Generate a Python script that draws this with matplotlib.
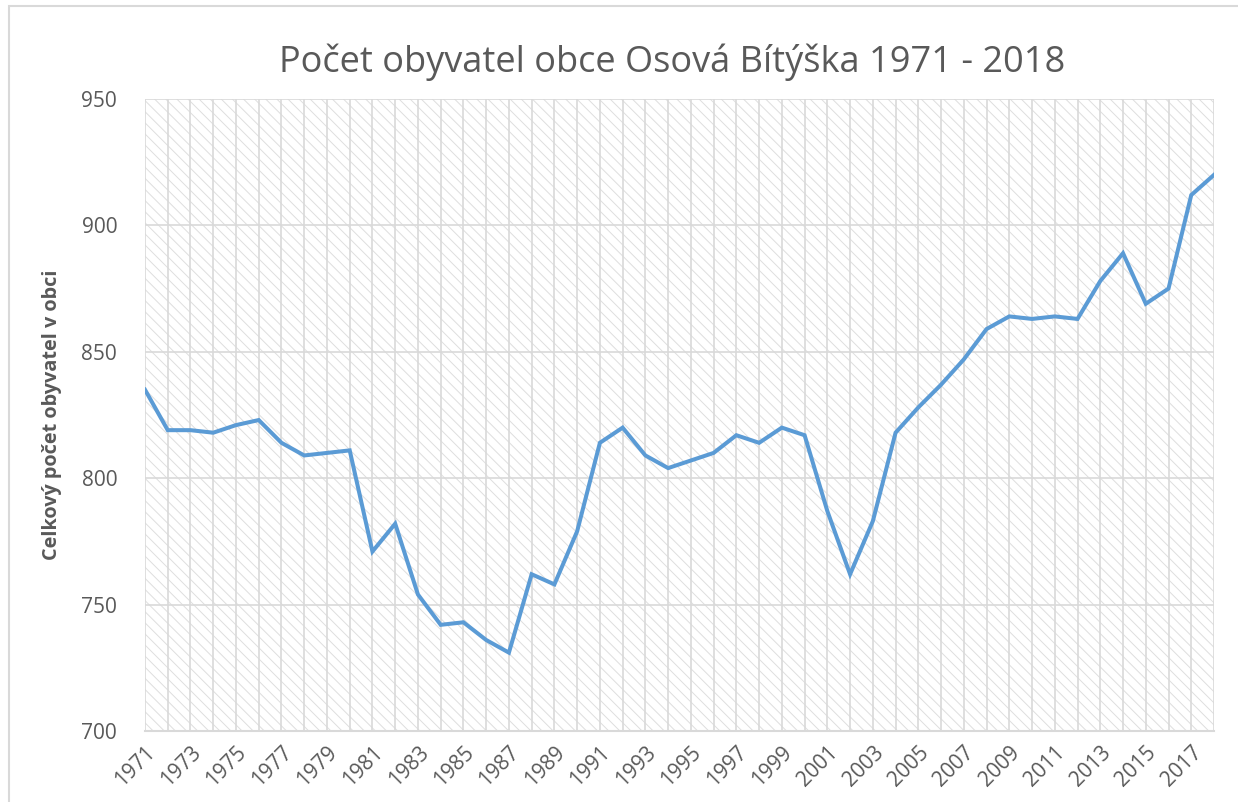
import matplotlib
matplotlib.use("Agg")
import matplotlib.pyplot as plt
from matplotlib.patches import Rectangle
from matplotlib.ticker import MultipleLocator

# data
years = list(range(1971, 2019))
population = [835, 819, 819, 818, 821, 823, 814, 809, 810, 811,
              771, 782, 754, 742, 743, 736, 731, 762, 758, 779,
              814, 820, 809, 804, 807, 810, 817, 814, 820, 817,
              787, 762, 783, 818, 828, 837, 847, 859, 864, 863,
              864, 863, 878, 889, 869, 875, 912, 920]
tick_years = years[::2]

TEXT = "#595959"
GRID = "#d9d9d9"
LINE = "#5B9BD5"

plt.rcParams['font.family'] = ['Open Sans', 'DejaVu Sans']
plt.rcParams['hatch.linewidth'] = 0.7

fig = plt.figure(figsize=(12.38, 8.02), dpi=100)
ax = fig.add_axes([145/1238, 1 - 731/802, (1214-145)/1238, (731-99)/802])

# outer chart border
fig.patches.append(Rectangle((9/1238, -0.05), 1.2, 1 - 6/802 + 0.05,
                             transform=fig.transFigure, fill=False,
                             edgecolor=GRID, lw=1.5, zorder=0))

# hatched plot area
ax.add_patch(Rectangle((0, 0), 1, 1, transform=ax.transAxes, facecolor="white",
                       edgecolor="#dedede", lw=0, hatch="\\\\\\", zorder=0))

ax.plot(years, population, color=LINE, lw=2.9, zorder=3, solid_joinstyle="miter")

ax.set_xlim(1971, 2018)
ax.set_ylim(700, 950)
ax.set_yticks(range(700, 951, 50))
ax.set_xticks(tick_years)
ax.xaxis.set_minor_locator(MultipleLocator(1))
ax.set_xticklabels([str(y) for y in tick_years], rotation=45, ha="right",
                   va="top", rotation_mode="anchor")
ax.grid(True, which="both", color=GRID, lw=1.2, zorder=1)
ax.set_axisbelow(True)

ax.tick_params(axis="both", which="both", length=0, colors=TEXT, labelsize=15)
ax.tick_params(axis="y", pad=20)
ax.tick_params(axis="x", pad=8)

for side in ["top", "right", "left"]:
    ax.spines[side].set_visible(False)
ax.spines["bottom"].set_color(GRID)
ax.spines["bottom"].set_linewidth(1.5)

ax.set_ylabel("Celkový počet obyvatel v obci", fontsize=14.3, fontweight="bold",
              color=TEXT, labelpad=14)
fig.text(672/1238, 1 - 62/802, "Počet obyvatel obce Osová Bítýška 1971 - 2018",
         ha="center", va="center", fontsize=26, color=TEXT)

fig.savefig("out.png", dpi=100)
